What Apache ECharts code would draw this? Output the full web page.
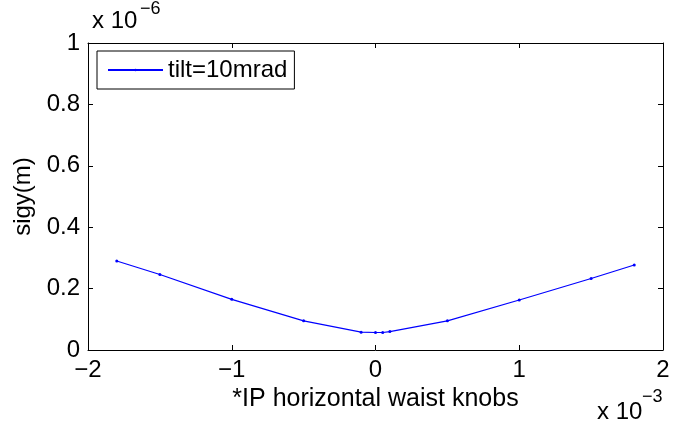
<!DOCTYPE html>
<html>
<head>
<meta charset="utf-8">
<script src="https://cdn.jsdelivr.net/npm/echarts@6/dist/echarts.min.js"></script>
<style>
html,body{margin:0;padding:0;background:#fff;}
#chart{width:673px;height:424px;}
</style>
</head>
<body>
<div id="chart"></div>
<script>
// x values in units of 1e-3, y values in units of 1e-6
var xKnob = [-1.8, -1.5, -1.0, -0.5, -0.1, 0.0, 0.05, 0.1, 0.5, 1.0, 1.5, 1.8];
var sigy  = [0.290, 0.246, 0.165, 0.095, 0.058, 0.057, 0.057, 0.060, 0.095, 0.163, 0.233, 0.277];
var seriesName = 'tilt=10mrad';
var xTicks = [-2, -1, 0, 1, 2];
var yTicks = [0, 0.2, 0.4, 0.6, 0.8, 1];

var FONT = "'Liberation Sans', Arial, Helvetica, sans-serif";

function fmt(v) {
  var s = String(Math.round(v * 10) / 10);
  return s.replace('-', '\u2212');
}

var data = xKnob.map(function (x, i) { return [x, sigy[i]]; });

var chart = echarts.init(document.getElementById('chart'), null, {renderer: 'canvas'});
var tickCommon = {show: true, inside: true, length: 5, lineStyle: {color: '#000', width: 1}};
var lineCommon = {show: true, onZero: false, lineStyle: {color: '#000', width: 1}};
chart.setOption({
  animation: false,
  backgroundColor: '#fff',
  grid: {left: 88, right: 10, top: 43, bottom: 74, show: false},
  legend: {
    show: true,
    left: 97, top: 51,
    orient: 'vertical',
    backgroundColor: '#fff',
    borderColor: '#000', borderWidth: 1, borderRadius: 0,
    padding: [7, 7, 7, 10],
    itemWidth: 55, itemHeight: 3,
    textStyle: {fontFamily: FONT, fontSize: 24, color: '#000'},
    data: [seriesName]
  },
  xAxis: [{
    type: 'value', min: xTicks[0], max: xTicks[xTicks.length - 1], interval: 1,
    position: 'bottom',
    axisLine: lineCommon,
    axisTick: tickCommon,
    splitLine: {show: false},
    axisLabel: {formatter: fmt, fontFamily: FONT, fontSize: 24, color: '#000', margin: 8},
    name: '*IP horizontal waist knobs',
    nameLocation: 'middle', nameGap: 35,
    nameTextStyle: {fontFamily: FONT, fontSize: 25, color: '#000'}
  }, {
    type: 'value', min: xTicks[0], max: xTicks[xTicks.length - 1], interval: 1,
    position: 'top',
    axisLine: lineCommon,
    axisTick: tickCommon,
    axisLabel: {show: false},
    splitLine: {show: false}
  }],
  yAxis: [{
    type: 'value', min: yTicks[0], max: yTicks[yTicks.length - 1], interval: 0.2,
    position: 'left',
    axisLine: lineCommon,
    axisTick: tickCommon,
    splitLine: {show: false},
    axisLabel: {formatter: fmt, fontFamily: FONT, fontSize: 24, color: '#000', margin: 8},
    name: 'sigy(m)',
    nameLocation: 'middle', nameGap: 46,
    nameTextStyle: {fontFamily: FONT, fontSize: 24, color: '#000'}
  }, {
    type: 'value', min: yTicks[0], max: yTicks[yTicks.length - 1], interval: 0.2,
    position: 'right',
    axisLine: lineCommon,
    axisTick: tickCommon,
    axisLabel: {show: false},
    splitLine: {show: false}
  }],
  graphic: [
    {type: 'text', left: 92, top: 9, style: {text: 'x 10', font: '24px ' + FONT, fill: '#000'}},
    {type: 'text', left: 140, top: 0, style: {text: '\u22126', font: '18px ' + FONT, fill: '#000'}},
    {type: 'text', left: 597, top: 400, style: {text: 'x 10', font: '24px ' + FONT, fill: '#000'}},
    {type: 'text', left: 642, top: 388, style: {text: '\u22123', font: '18px ' + FONT, fill: '#000'}}
  ],
  series: [{
    name: seriesName,
    type: 'line',
    data: data,
    xAxisIndex: 0, yAxisIndex: 0,
    symbol: 'circle', symbolSize: 3,
    showSymbol: true,
    lineStyle: {color: '#0000ff', width: 1.2},
    itemStyle: {color: '#0000ff'}
  }]
});
</script>
</body>
</html>
